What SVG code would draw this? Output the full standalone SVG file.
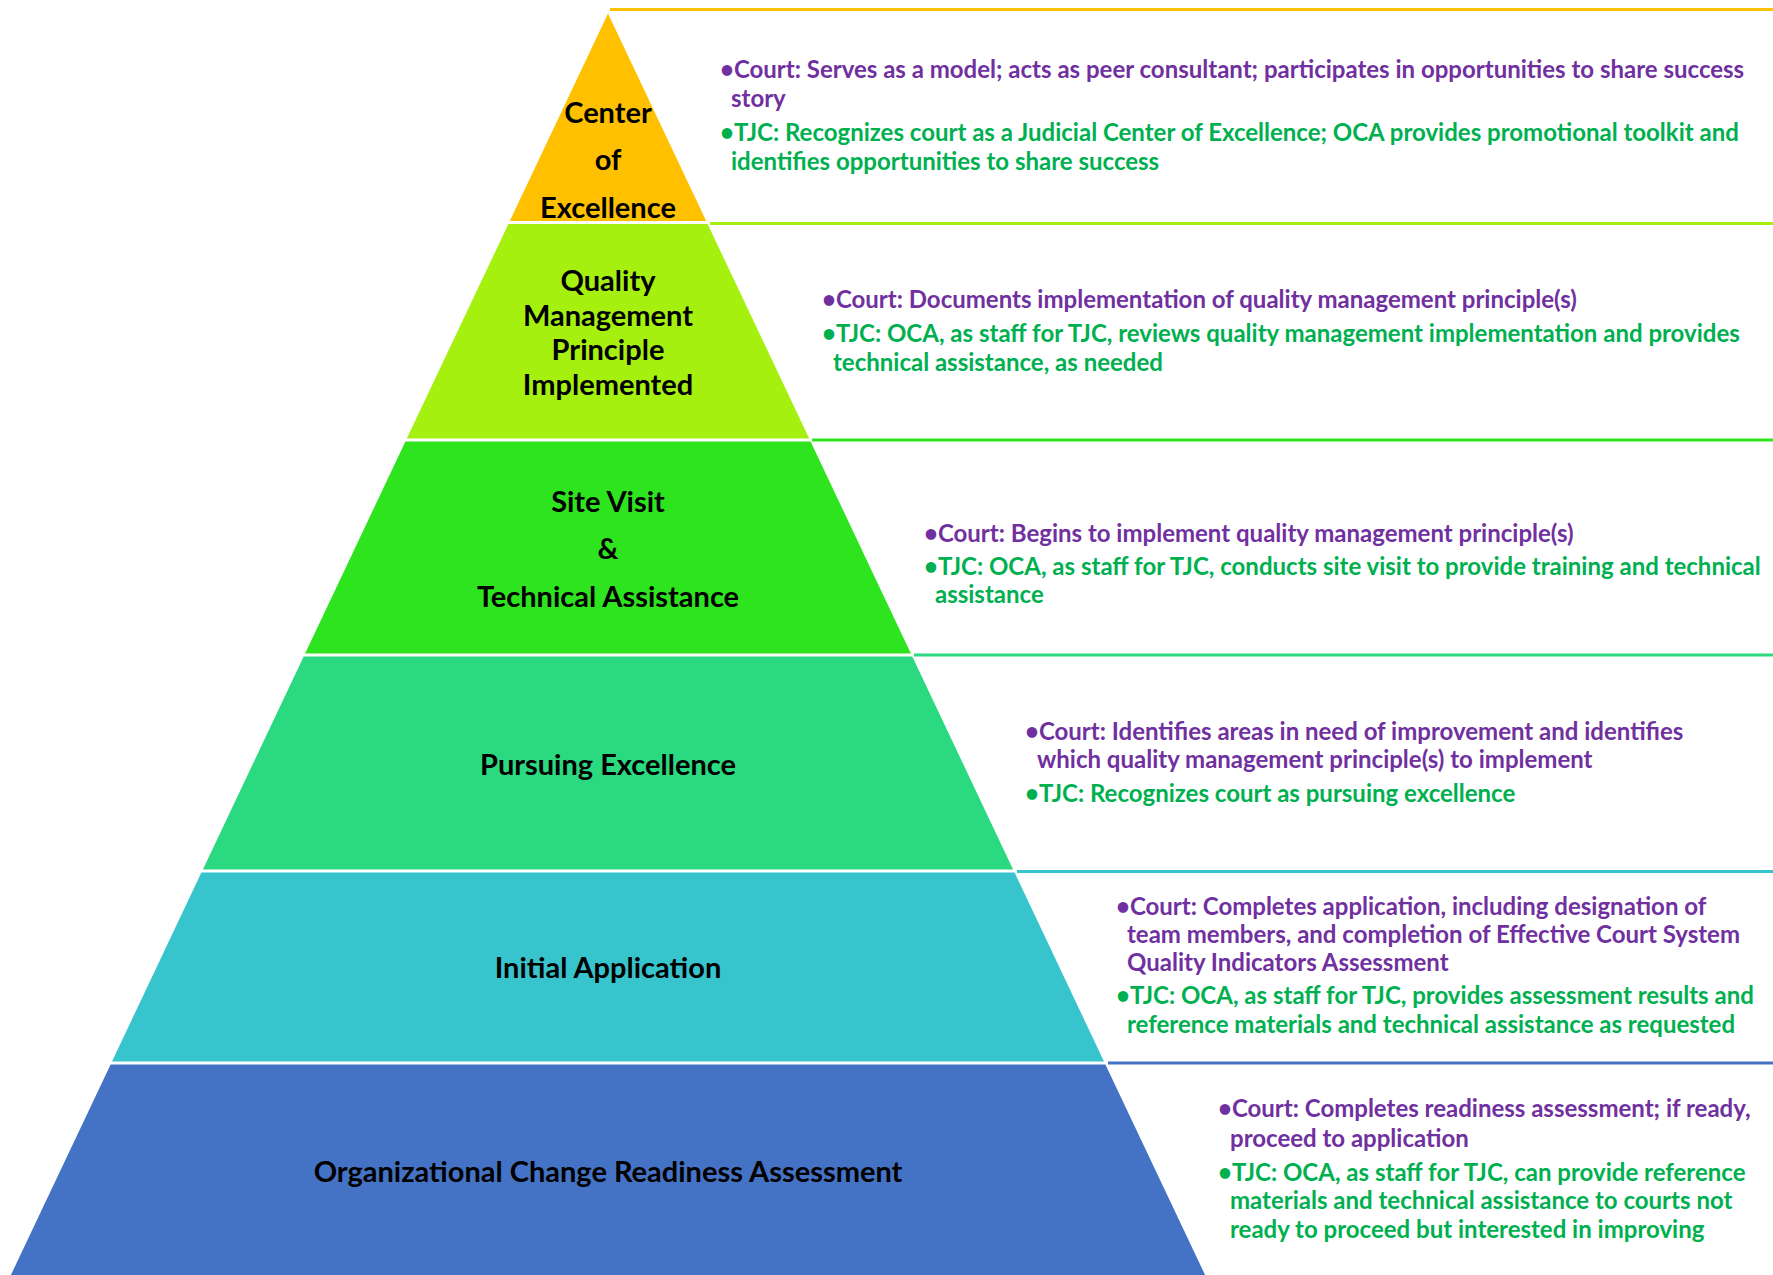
<svg xmlns="http://www.w3.org/2000/svg" width="1773" height="1275" viewBox="0 0 1773 1275">
<style>
.lbl{font-family:Lato,"Liberation Sans",sans-serif;font-weight:bold;font-size:29px;fill:#000;text-anchor:middle}
.t{font-family:Lato,"Liberation Sans",sans-serif;font-weight:bold;font-size:24px}
.c{fill:#7030A0}
.j{fill:#00B050}
.ln{stroke-width:3;fill:none}
</style>
<rect width="1773" height="1275" fill="#fff"/>
<g id="connectors">
<line class="ln" x1="610" y1="9.5" x2="1773" y2="9.5" stroke="#FFC000"/>
<line class="ln" x1="710" y1="223.5" x2="1773" y2="223.5" stroke="#A5F00F"/>
<line class="ln" x1="812" y1="440" x2="1773" y2="440" stroke="#2EE41E"/>
<line class="ln" x1="914" y1="655" x2="1773" y2="655" stroke="#2AD980"/>
<line class="ln" x1="1017" y1="871.5" x2="1773" y2="871.5" stroke="#37C4CD"/>
<line class="ln" x1="1108" y1="1063" x2="1773" y2="1063" stroke="#4472C4"/>
</g>
<g id="center-of-excellence">
<polygon points="608,13.5 706.2,221 509.8,221" fill="#FFC000"/>
<text class="lbl" x="608" y="123">Center</text>
<text class="lbl" x="608" y="170">of</text>
<text class="lbl" x="608" y="218">Excellence</text>
<text class="t c" x="720" y="78">•Court: Serves as a model; acts as peer consultant; participates in opportunities to share success</text>
<text class="t c" x="731" y="107">story</text>
<text class="t j" x="720" y="141">•TJC: Recognizes court as a Judicial Center of Excellence; OCA provides promotional toolkit and</text>
<text class="t j" x="731" y="170">identifies opportunities to share success</text>
</g>
<g id="quality-management">
<polygon points="508.4,224 707.6,224 809.2,438.5 406.8,438.5" fill="#A5F00F"/>
<text class="lbl" x="608" y="291">Quality</text>
<text class="lbl" x="608" y="326">Management</text>
<text class="lbl" x="608" y="360">Principle</text>
<text class="lbl" x="608" y="395">Implemented</text>
<text class="t c" x="822" y="308">•Court: Documents implementation of quality management principle(s)</text>
<text class="t j" x="822" y="342">•TJC: OCA, as staff for TJC, reviews quality management implementation and provides</text>
<text class="t j" x="833" y="371">technical assistance, as needed</text>
</g>
<g id="site-visit">
<polygon points="405.4,441.5 810.6,441.5 910.9,653.5 305.1,653.5" fill="#2EE41E"/>
<text class="lbl" x="608" y="512">Site Visit</text>
<text class="lbl" x="608" y="559">&amp;</text>
<text class="lbl" x="608" y="607">Technical Assistance</text>
<text class="t c" x="924" y="542">•Court: Begins to implement quality management principle(s)</text>
<text class="t j" x="924" y="575">•TJC: OCA, as staff for TJC, conducts site visit to provide training and technical</text>
<text class="t j" x="935" y="603">assistance</text>
</g>
<g id="pursuing-excellence">
<polygon points="303.7,656.5 912.3,656.5 1013.1,869.5 202.9,869.5" fill="#2AD980"/>
<text class="lbl" x="608" y="775">Pursuing Excellence</text>
<text class="t c" x="1025" y="740">•Court: Identifies areas in need of improvement and identifies</text>
<text class="t c" x="1037" y="768">which quality management principle(s) to implement</text>
<text class="t j" x="1025" y="802">•TJC: Recognizes court as pursuing excellence</text>
</g>
<g id="initial-application">
<polygon points="201.4,872.5 1014.6,872.5 1104,1061.5 112,1061.5" fill="#37C4CD"/>
<text class="lbl" x="608" y="978">Initial Application</text>
<text class="t c" x="1116" y="915">•Court: Completes application, including designation of</text>
<text class="t c" x="1127" y="943">team members, and completion of Effective Court System</text>
<text class="t c" x="1127" y="971">Quality Indicators Assessment</text>
<text class="t j" x="1116" y="1004">•TJC: OCA, as staff for TJC, provides assessment results and</text>
<text class="t j" x="1127" y="1033">reference materials and technical assistance as requested</text>
</g>
<g id="readiness-assessment">
<polygon points="110.6,1064.5 1105.4,1064.5 1205.1,1275 10.9,1275" fill="#4472C4"/>
<text class="lbl" x="608" y="1182">Organizational Change Readiness Assessment</text>
<text class="t c" x="1218" y="1117">•Court: Completes readiness assessment; if ready,</text>
<text class="t c" x="1230" y="1147">proceed to application</text>
<text class="t j" x="1218" y="1181">•TJC: OCA, as staff for TJC, can provide reference</text>
<text class="t j" x="1230" y="1209">materials and technical assistance to courts not</text>
<text class="t j" x="1230" y="1238">ready to proceed but interested in improving</text>
</g>
</svg>
